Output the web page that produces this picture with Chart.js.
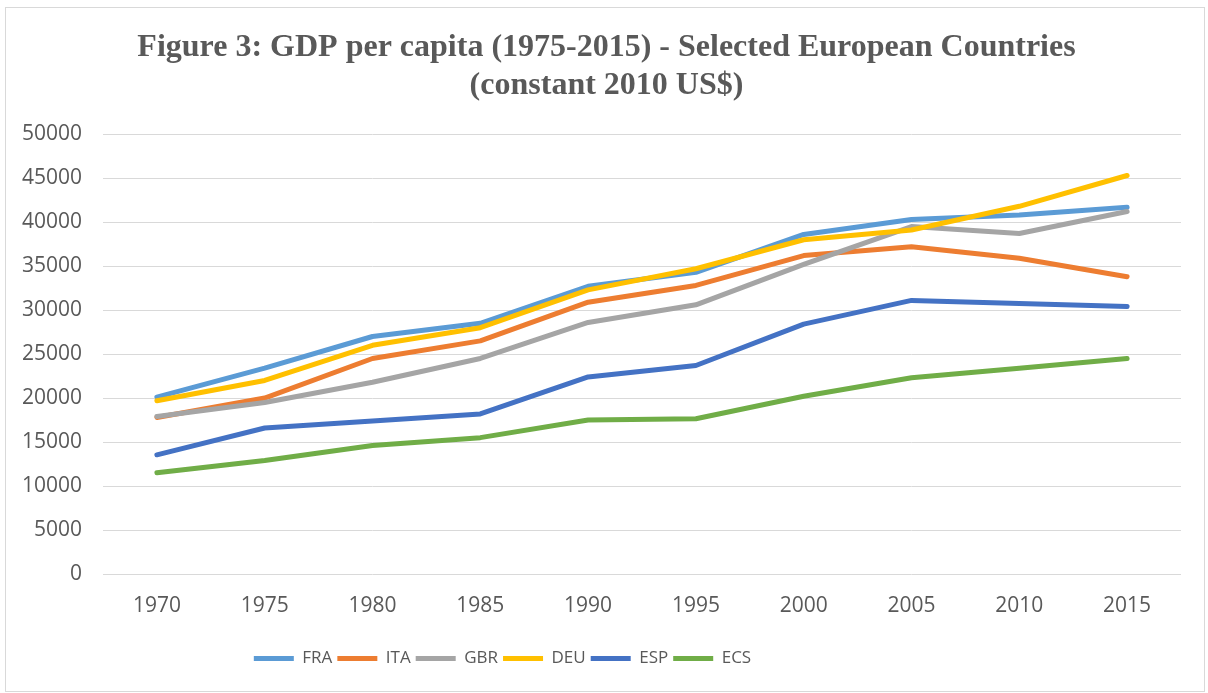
<!DOCTYPE html>
<html>
<head>
    <title></title>
    <script src="https://cdn.jsdelivr.net/npm/chart.js@4/dist/chart.umd.min.js"></script>
    <style>
        body { margin: 0; background: #fff; }
        #box { position: absolute; left: 5px; top: 7px; width: 1198px; height: 683px; border: 1px solid #d9d9d9; }
    </style>
</head>
<body>
    <div id="box">
        <canvas id="myChart" width="1198" height="683"></canvas>
    </div>
    <script>
        var years = ["1970", "1975", "1980", "1985", "1990", "1995", "2000", "2005", "2010", "2015"];
        var fra = [20100, 23400, 27000, 28500, 32700, 34300, 38600, 40300, 40800, 41700];
        var ita = [17800, 20000, 24500, 26500, 30900, 32800, 36200, 37200, 35900, 33800];
        var gbr = [17900, 19500, 21800, 24500, 28600, 30600, 35200, 39500, 38700, 41200];
        var deu = [19700, 22000, 26000, 28000, 32300, 34700, 38000, 39100, 41800, 45300];
        var esp = [13550, 16600, 17400, 18200, 22400, 23700, 28400, 31100, 30750, 30400];
        var ecs = [11500, 12900, 14600, 15500, 17500, 17650, 20200, 22300, 23400, 24500];

        var names = ["FRA", "ITA", "GBR", "DEU", "ESP", "ECS"];
        var series = [fra, ita, gbr, deu, esp, ecs];
        var colors = ["#5B9BD5", "#ED7D31", "#A5A5A5", "#FFC000", "#4472C4", "#70AD47"];

        var datasets = series.map(function(d, i) {
            return {
                label: names[i],
                data: d,
                borderColor: colors[i],
                backgroundColor: colors[i],
                borderWidth: 5,
                borderCapStyle: "round",
                borderJoinStyle: "round",
                pointRadius: 0,
                tension: 0,
                order: names.length - i   // later series drawn on top, like Excel
            };
        });

        // Excel centres the title on the whole box and puts the legend a bit left
        var nudge = {
            id: "nudge",
            afterLayout: function(chart) {
                chart.titleBlock.left += 8;
                chart.titleBlock.right += 8;
                chart.legend.left -= 96;
                chart.legend.right -= 96;
            }
        };

        var txt = "#595959";
        var sans = "'Open Sans', sans-serif";
        var chart = new Chart(document.getElementById("myChart"), {
            type: "line",
            data: { labels: years, datasets: datasets },
            plugins: [nudge],
            options: {
                responsive: false,
                animation: false,
                layout: { padding: { left: 10, right: 23, bottom: 14 } },
                plugins: {
                    tooltip: { enabled: false },
                    title: {
                        display: true,
                        text: ["Figure 3: GDP per capita (1975-2015) - Selected European Countries", "(constant 2010 US$)"],
                        color: txt,
                        font: { family: "'Liberation Serif', 'Times New Roman', serif", size: 32, weight: "bold", lineHeight: 1.19 },
                        padding: { top: 21, bottom: 29 }
                    },
                    legend: {
                        position: "bottom",
                        labels: {
                            color: txt,
                            font: { family: sans, size: 17 },
                            usePointStyle: true,
                            pointStyle: "line",
                            pointStyleWidth: 40,
                            boxHeight: 18,
                            padding: 5,
                            sort: function(a, b) { return a.datasetIndex - b.datasetIndex; }
                        }
                    }
                },
                scales: {
                    x: {
                        offset: true,
                        grid: { display: false },
                        border: { display: false },
                        ticks: { color: txt, font: { family: sans, size: 21 }, padding: 11 },
                        afterFit: function(s) { s.height = 71; }
                    },
                    y: {
                        min: 0,
                        max: 50000,
                        ticks: {
                            stepSize: 5000, color: txt, font: { family: sans, size: 21 }, padding: 21,
                            callback: function(v) { return String(v); }
                        },
                        grid: { color: "#d9d9d9", lineWidth: 1, drawTicks: false },
                        border: { display: false },
                        afterFit: function(s) { s.width = 87; }
                    }
                }
            }
        });
    </script>
</body>
</html>
